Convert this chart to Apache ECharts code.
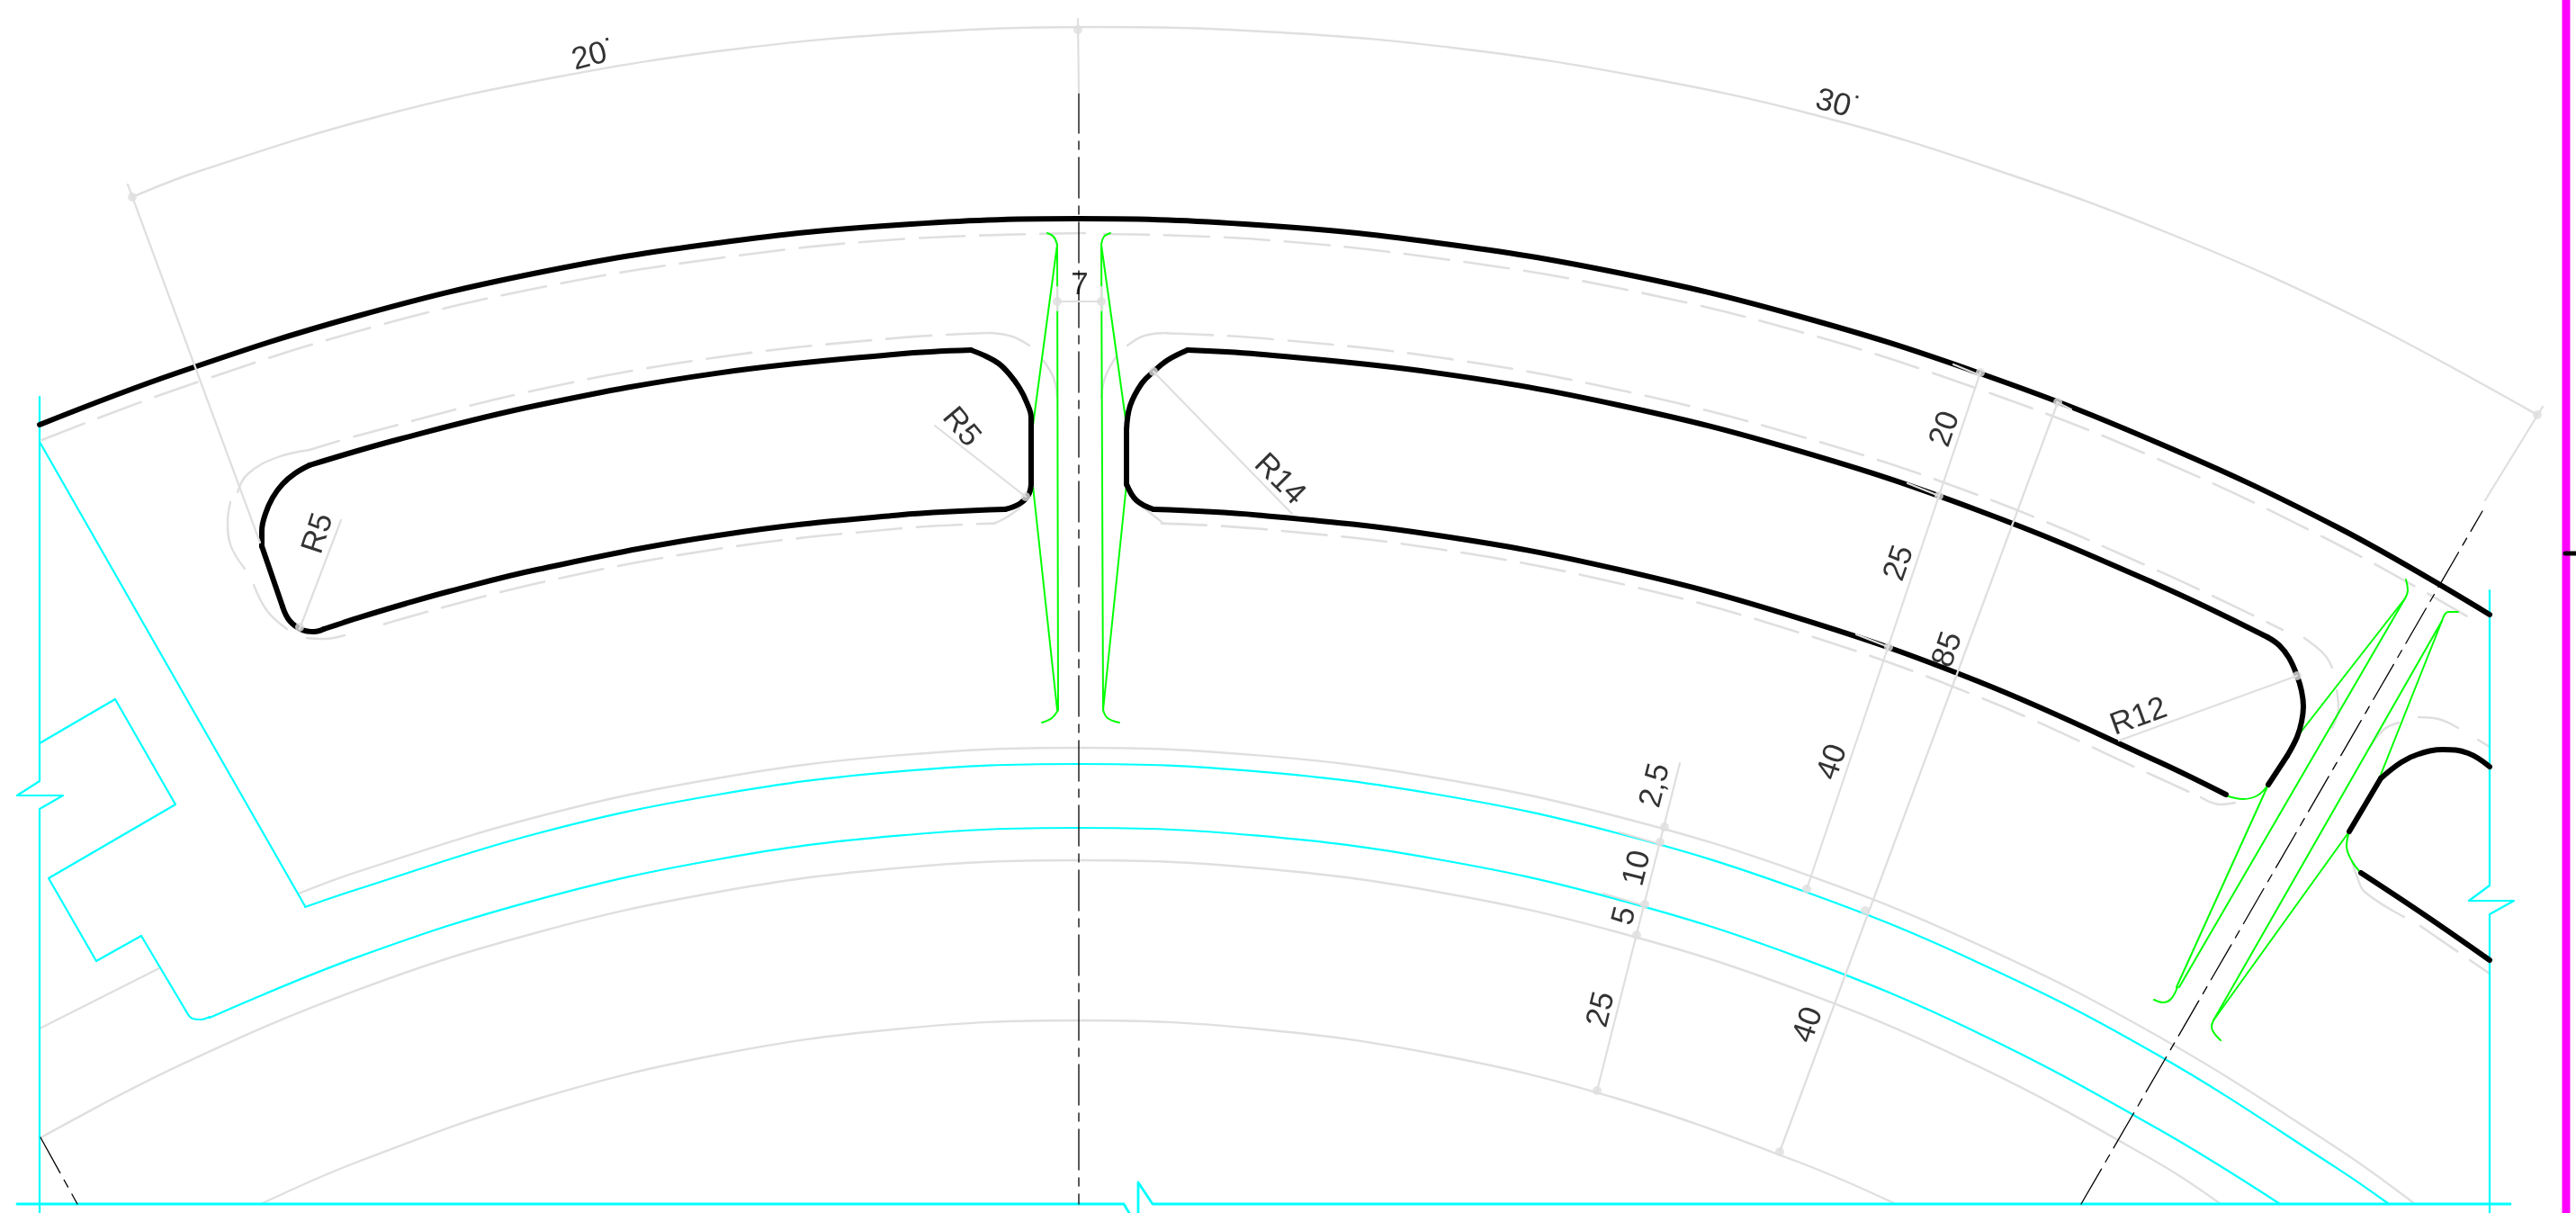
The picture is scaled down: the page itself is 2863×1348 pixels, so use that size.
<!DOCTYPE html>
<html><head><meta charset="utf-8">
<style>html,body{margin:0;padding:0;background:#fff}#c{width:2863px;height:1348px}</style>
<script src="https://cdn.jsdelivr.net/npm/echarts@6/dist/echarts.min.js"></script>
</head><body><div id="c"></div>
<script>
const outerThick=[[44,472],[198,414],[398,351],[598,303],[798,270],[998,250],[1198,243],[1398,250],[1598,270],[1798,303],[1998,351],[2198,414],[2398,492],[2598,586],[2767,683]];
const outerDashLeft=[[1206,259],[998,266],[798,287],[598,320],[398,368],[198,432],[44,490]];
const outerDashRight=[[1227,260],[1398,266],[1598,287],[1798,320],[1998,368],[2198,432],[2398,510],[2598,605],[2754,692]];
const angleArc=[[147,219],[222,190],[422,129],[622,85],[822,54],[1022,36],[1222,30],[1422,36],[1622,54],[1822,85],[2022,129],[2222,190],[2422,264],[2622,354],[2820,461]];

const slotLTop=[[1079,389],[998,393.5],[798,414.6],[598,450.3],[444,488],[344,517]];
const slotLCornerA=[[344,517],[328,526],[314,538],[303,553],[295,571],[291,590],[291,607]];
const slotLSide=[[291,607],[314,674]];
const slotLCornerB=[[314,674],[322,690],[336,700],[349,702],[360,699]];
const slotLBottom=[[360,699],[380,692.5],[398,686.6],[450,671],[500,657],[598,632.7],[798,595],[998,572.4],[1117,566]];
const slotLCornerC=[[1117,566],[1133,560],[1143,550],[1146,538]];
const slotLSideR=[[1146,538],[1146,478]];
const slotLCornerD=[[1146,478],[1146,464],[1141,447],[1133,431],[1122,416],[1110,404],[1096,396],[1079,389]];

const slotRTop=[[1320,389],[1398,393.5],[1598,414.6],[1798,450],[1998,500.7],[2198,567],[2398,649.7],[2520,708]];
const slotRCornerA=[[2520,708],[2533,717],[2544,731],[2553,751],[2558,768],[2560,785],[2558,802],[2553,819],[2542,840]];
const slotRCornerEnd=[[2542,840],[2521,872]];
const slotRBottom=[[2474,883],[2398,846],[2198,757],[1998,686.6],[1798,632.7],[1598,595],[1398,572.4],[1282,566]];
const slotRCornerB=[[1282,566],[1263,556],[1252,538]];
const slotRSide=[[1252,538],[1252,478]];
const slotRCornerC=[[1252,478],[1256,451],[1269,426],[1282,413],[1298,400],[1320,389]];

const slot3Side=[[2611,924],[2646,865]];
const slot3Top=[[2646,865],[2669,847],[2688,838],[2715,833],[2743,837],[2767,852]];
const slot3Low=[[2624,970],[2695,1017],[2767,1067]];

const cyanLeft=[[44,441],[44,868],[19,884],[70,884],[44,899],[44,1348]];
const cyanRight=[[2767,656],[2767,984],[2744,1001],[2794,1001],[2767,1016],[2767,1348]];
const cyanBottomA=[[19,1338],[1249,1338],[1255,1348]];
const cyanBottomB=[[1265,1348],[1265,1314],[1281,1338],[2790,1338]];
const cyanDiag=[[44,491],[339,1007]];
const cyanPoly=[[44,826],[128,777],[195,894],[54,976],[107,1068],[157,1040],[207,1124]];
const cyanFillet=[[207,1124],[214,1132],[223,1133],[233,1130]];
const cyanArc1=[[339,1008],[398,988],[598,926],[798,883],[998,857.4],[1198,849],[1398,857.4],[1598,883],[1798,926],[1998,988],[2198,1069.4],[2398,1172.3],[2598,1298.6],[2655,1338]];
const cyanArc2=[[233,1131],[398,1063.4],[598,999.6],[798,955],[998,928.7],[1198,920],[1398,928.7],[1598,955],[1798,999.6],[1998,1063.4],[2198,1147.7],[2398,1254.3],[2534,1338]];

const greyArc1=[[332,993],[398,968.6],[598,907.5],[798,864.7],[998,839.4],[1198,831],[1398,839.4],[1598,864.7],[1798,907.5],[1998,968.6],[2198,1049.4],[2398,1151.3],[2598,1276.2],[2684,1338]];
const greyArc2=[[44,1265],[198,1184.7],[398,1099.9],[598,1036],[798,991.2],[998,964.7],[1198,956],[1398,964.7],[1598,991.2],[1798,1036],[1998,1099.9],[2198,1184.7],[2398,1292],[2468,1338]];
const greyArc3=[[290,1338],[398,1291],[598,1221],[798,1172],[998,1143.5],[1198,1134],[1398,1143.5],[1598,1172],[1798,1221],[1998,1291],[2107,1338]];
const greyShort=[[44,1143],[177,1076]];

const slotLDashTop=[[1102,370],[998,375.5],[798,397],[598,433],[398,484],[344,500]];
const slotLFilletA=[[344,500],[306,509],[275,527],[264,547]];
const slotLFilletTop=[[1102,370],[1125,374],[1144,384]];
const slotLFilletSide=[[1159,400],[1171,420],[1175,442]];
const slotLCornerGrey1=[[256,558],[253,580],[256,605],[272,632]];
const slotLCornerGrey2=[[282,650],[297,679],[319,699]];
const slotLCornerGrey3=[[341,709],[360,710],[383,706]];
const slotLDashBottom=[[427,693.6],[598,648],[798,610],[998,587.5],[1106,581.6]];
const slotLFilletBottom=[[1106,581],[1117,576],[1133,565]];

const slotRDashTop=[[1298,370.5],[1398,375.5],[1598,397],[1798,433],[1998,484],[2198,550],[2398,634],[2537,700]];
const slotRFilletTop=[[1253,384],[1272,373],[1298,370]];
const slotRFilletSide=[[1240,397],[1228,420],[1224,442]];
const slotRCornerGrey1=[[2561,709],[2583,727],[2592,742]];
const slotRCornerGrey2=[[2597,767],[2599,786],[2592,809]];
const slotRDashBottom=[[1291,581.6],[1398,587.5],[1598,610],[1798,648],[1998,702.5],[2198,774],[2398,864],[2446,886]];
const slotRFilletBottom=[[1263,558],[1291,580]];
const slotRFilletEnd=[[2446,886],[2468,894],[2484,892]];
const slot3Grey1=[[2688,797],[2710,799],[2732,809]];
const slot3Grey2=[[2754,822],[2767,830]];
const slot3Grey3=[[2633,832],[2649,811],[2666,803]];
const slot3Grey4=[[2614,957],[2620,975],[2628,991],[2672,1019]];
const slot3Grey5=[[2690,1029],[2767,1082]];

const greenA=[[1164,259],[1171,263],[1175,272]];
const greenA1=[[1175,272],[1148,473]];
const greenA2=[[1175,272],[1176,789]];
const greenA3=[[1148,540],[1175,789]];
const greenAEnd=[[1176,789],[1169,798],[1158,803]];
const greenB=[[1234,259],[1227,263],[1224,272]];
const greenB1=[[1224,272],[1252,473]];
const greenB2=[[1224,272],[1226,789]];
const greenB3=[[1252,538],[1226,789]];
const greenBEnd=[[1226,789],[1231,798],[1244,803]];
const greenC=[[2674,644],[2676,656],[2673,665]];
const greenC1=[[2673,665],[2556,815]];
const greenC2=[[2673,665],[2422,1097]];
const greenC3=[[2521,872],[2419,1097]];
const greenCEnd=[[2420,1097],[2413,1110],[2404,1114],[2394,1111]];
const greenCorner=[[2521,872],[2509,884],[2493,888],[2474,884]];
const greenD=[[2732,680],[2721,680],[2714,690]];
const greenD1=[[2714,690],[2644,866]];
const greenD2=[[2714,690],[2460,1134]];
const greenD3=[[2611,924],[2460,1134]];
const greenDEnd=[[2460,1134],[2458,1141],[2468,1156]];
const greenE=[[2611,924],[2608,940],[2614,957],[2624,970]];

const axisCentre=[[1199,103],[1199,1338]];
const axisDiagonal=[[2313,1338],[2759,568]];
const axisLeft=[[45,1264],[86,1338]];

const dimLines=[
 [[1198,21],[1199,103]],
 [[142,205],[289,603]],
 [[1175,335],[1224,335]],
 [[1175,319],[1175,345]],
 [[1224,319],[1224,345]],
 [[379,578],[333,699]],
 [[1039,473],[1140,552]],
 [[1282,413],[1436,571]],
 [[2553,751],[2355,823]],
 [[2201,414],[2008,988]],
 [[2287,447],[1978,1280]],
 [[1867,848],[1775,1212]],
 [[2762,556],[2826,452]],
 [[2171,405],[2198,416]],[[2286,447],[2302,455]],
 [[2120,537],[2155,551]],[[2063,705],[2099,719]],
 [[1800,925],[1845,938]],[[1782,993],[1826,1006]]
];
const dimDots=[[147,219],[1198,33],[2820,461],[1175,335],[1224,335],[333,697],[1140,552],[1282,413],[2553,751],[2201,414],[2155,551],[2099,719],[2008,988],[2287,447],[2073,1012],[1978,1280],[1850,919],[1845,936],[1828,1005],[1819,1039],[1775,1212]];

const magentaBar=[[2852,0],[2852,1348]];
const magentaTick=[[2851,615],[2863,615]];

const labels=[
 ['20˙',661,62,15],['30˙',2043,117,-15],['7',1200,317,0],
 ['R5',354,593,72],['R5',1068,475,-50],['R14',1422,533,-45],['R12',2377,797,20],
 ['20',2162,477,71],['25',2111,626,71],['85',2165,722,71],['40',2037,847,71],['40',2010,1139,71],
 ['2,5',1840,873,76],['10',1820,965,76],['5',1806,1018,76],['25',1780,1122,76]
];

const GREY='#dfdfdf',CYAN='#00ffff',GREEN='#00ff00',BLACK='#000000';
const series=[];
function draw(pts,color,width,smooth,dash,z){
  series.push({type:'line',data:pts,symbol:'none',silent:true,smooth:smooth?0.4:false,z:z||2,
    lineStyle:{color:color,width:width,type:dash||'solid',cap:'round',join:'round'}});
}
const DASH=[50,17];
[angleArc,greyArc1,greyArc2,greyArc3,slotLFilletA].forEach(a=>draw(a,GREY,2.4,true));
draw(greyShort,GREY,2.4,false);
[outerDashLeft,outerDashRight,slotLDashTop,slotLDashBottom,slotRDashTop,slotRDashBottom].forEach(a=>draw(a,GREY,2.6,true,DASH));
[slotLFilletTop,slotLFilletSide,slotLCornerGrey1,slotLCornerGrey2,slotLCornerGrey3,slotLFilletBottom,slotRFilletTop,slotRFilletSide,slotRCornerGrey1,slotRCornerGrey2,slotRFilletEnd,slot3Grey1,slot3Grey2,slot3Grey3,slot3Grey4].forEach(a=>draw(a,GREY,2.4,true));
draw(slotRFilletBottom,GREY,2.4,false);
draw(slot3Grey5,GREY,2.6,false,DASH);
[greenA,greenAEnd,greenB,greenBEnd,greenC,greenCEnd,greenCorner,greenD,greenDEnd,greenE].forEach(a=>draw(a,GREEN,2,true,null,3));
[greenA1,greenA2,greenA3,greenB1,greenB2,greenB3,greenC1,greenC2,greenC3,greenD1,greenD2,greenD3].forEach(a=>draw(a,GREEN,2,false,null,3));
[cyanArc1,cyanArc2,cyanFillet].forEach(a=>draw(a,CYAN,2.2,true,null,4));
[cyanLeft,cyanRight,cyanDiag,cyanPoly].forEach(a=>draw(a,CYAN,2.2,false,null,4));
[cyanBottomA,cyanBottomB].forEach(a=>draw(a,CYAN,2.8,false,null,4));
[axisCentre,axisDiagonal,axisLeft].forEach(a=>draw(a,'#000000',1.3,false,[45,9,9,9],5));
[outerThick,slotLTop,slotLCornerA,slotLCornerB,slotLBottom,slotLCornerC,slotLCornerD,slotRTop,slotRCornerA,slotRBottom,slotRCornerB,slotRCornerC,slot3Top,slot3Low].forEach(a=>draw(a,BLACK,6,true,null,6));
[slotLSide,slotLSideR,slotRSide,slot3Side,slotRCornerEnd].forEach(a=>draw(a,BLACK,6,false,null,6));
dimLines.forEach(a=>draw(a,GREY,2.2,false,null,7));
series.push({type:'scatter',data:dimDots,symbol:'circle',symbolSize:10,silent:true,z:8,itemStyle:{color:GREY}});
draw(magentaBar,'#ff00ff',9,false,null,9);
draw(magentaTick,BLACK,5,false,null,10);
labels.forEach(l=>{
  series.push({type:'scatter',data:[[l[1],l[2]]],symbolSize:0,silent:true,z:11,
    label:{show:true,position:'inside',formatter:l[0],rotate:l[3],color:'#000000',fontFamily:'"Liberation Sans"',fontSize:35,align:'center',verticalAlign:'middle'}});
});
const chart=echarts.init(document.getElementById('c'),null,{renderer:'canvas'});
chart.setOption({animation:false,backgroundColor:'#ffffff',
  grid:{left:0,right:0,top:0,bottom:0},
  xAxis:{type:'value',min:0,max:2863,show:false},
  yAxis:{type:'value',min:0,max:1348,inverse:true,show:false},
  tooltip:{show:false},series:series});
</script></body></html>
